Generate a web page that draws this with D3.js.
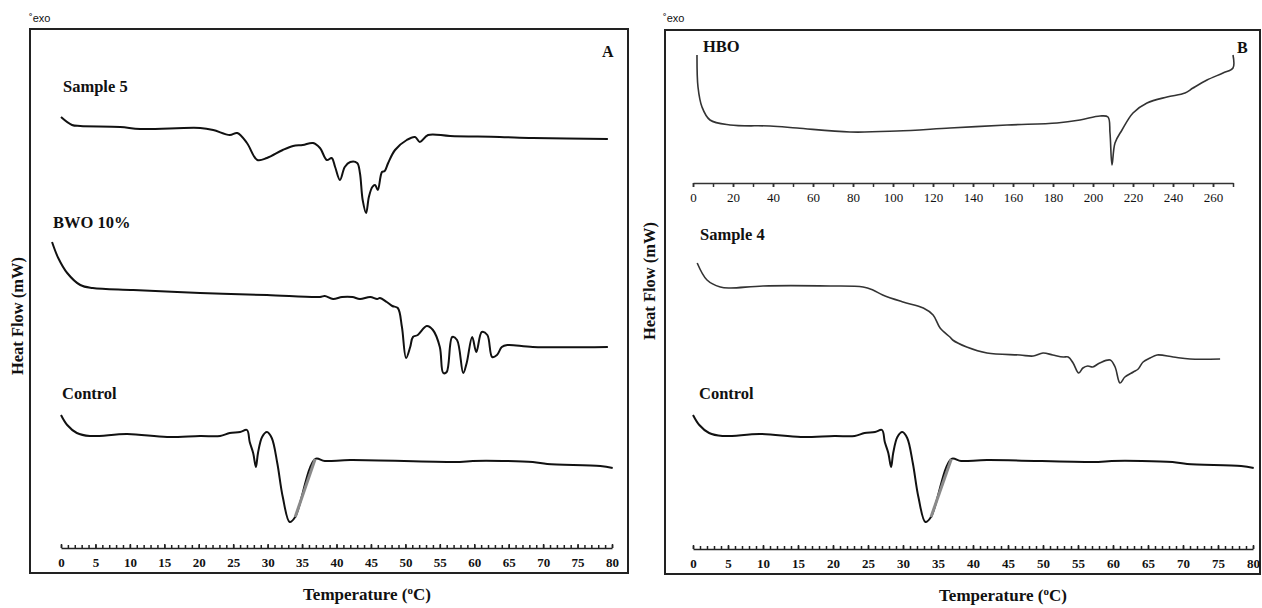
<!DOCTYPE html>
<html>
<head>
<meta charset="utf-8">
<script src="https://cdn.jsdelivr.net/npm/d3@7"></script>
<style>
  body { margin: 0; background: #fff; }
  svg { display: block; }
</style>
</head>
<body>
<svg id="chart" width="1262" height="608"></svg>
<script>
// Temperature ticks (lower axes) and HBO inset ticks
var tempMajor = [0, 5, 10, 15, 20, 25, 30, 35, 40, 45, 50, 55, 60, 65, 70, 75, 80];
var tempMinor = d3.range(0, 81, 1);
var hboMajor = [0, 20, 40, 60, 80, 100, 120, 140, 160, 180, 200, 220, 240, 260];
var hboMinor = d3.range(0, 271, 10);

// Curves: [temperature, heat flow (arbitrary, stacked)]
var sample5 = [
  [0, 86.2], [1.6, 84.6], [2.8, 84.4], [8.6, 84.2], [11.5, 83.8], [20.2, 84.0], [22.1, 83.6],
  [24.5, 82.6], [25.6, 83.0], [27.0, 81.0], [28.5, 77.6], [29.9, 78.0], [32.2, 79.6], [33.7, 80.4],
  [35.1, 80.6], [36.6, 81.0], [37.6, 80.0], [38.6, 77.6], [39.3, 78.0], [39.8, 76.2], [40.5, 73.6],
  [41.2, 76.2], [42.0, 77.2], [43.0, 77.0], [43.4, 75.0], [43.8, 69.6], [44.3, 67.0], [44.7, 70.2],
  [45.2, 72.2], [45.6, 72.6], [46.0, 71.6], [46.6, 75.2], [47.0, 75.4], [47.5, 77.0], [48.5, 79.6],
  [50.2, 81.6], [51.4, 82.2], [52.1, 81.2], [53.3, 82.6], [56.5, 82.4], [63.7, 82.2], [68.5, 82.0],
  [79.4, 81.8]
];
var bwo10 = [
  [-1.3, 61.2], [-0.4, 58.0], [0.9, 55.0], [2.8, 52.6], [4.6, 52.0], [10.5, 51.6], [20.2, 51.0],
  [29.9, 50.6], [37.6, 50.2], [38.3, 50.4], [39.5, 49.8], [40.8, 50.2], [42.3, 50.2], [43.4, 49.8],
  [44.9, 50.2], [45.9, 49.8], [46.3, 50.0], [47.3, 49.2], [48.1, 48.4], [48.9, 48.0], [49.5, 44.2],
  [50.1, 38.0], [50.7, 40.2], [51.1, 42.2], [51.8, 42.6], [53.1, 44.4], [54.0, 43.6], [55.0, 40.2],
  [55.5, 35.0], [56.0, 35.2], [56.8, 42.2], [57.5, 41.6], [58.4, 35.0], [58.9, 37.0], [59.7, 42.2],
  [60.3, 39.2], [61.1, 43.2], [61.9, 42.6], [62.6, 38.2], [63.3, 38.6], [64.0, 40.2], [64.8, 40.6],
  [68.5, 40.2], [79.4, 40.2]
];
var control = [
  [0, 26.6], [0.9, 24.6], [2.3, 23.0], [4.2, 22.4], [9.6, 22.8], [15.4, 22.2], [20.2, 22.4],
  [23.1, 22.4], [24.5, 23.0], [26.0, 23.2], [27.0, 23.6], [27.4, 21.2], [27.9, 19.0], [28.3, 16.2],
  [28.6, 19.0], [29.2, 22.2], [29.9, 23.2], [30.6, 22.0], [31.4, 17.0], [32.2, 10.2], [33.2, 5.2],
  [34.0, 6.2], [36.9, 17.8], [38.3, 17.4], [42.0, 17.6], [57.9, 17.2], [59.8, 17.4], [68.5, 17.2],
  [70.6, 16.8], [78.3, 16.4], [80.1, 16.0]
];
var hbo = [
  [2, 98.6], [2.5, 92.2], [4.5, 88.2], [8.5, 85.6], [18.5, 84.6], [38.5, 84.4], [52, 84.0],
  [78.5, 83.2], [102, 83.4], [128.5, 84.0], [157, 84.6], [182, 85.0], [193.5, 85.6], [203.5, 86.4],
  [207.5, 86.2], [208.5, 83.0], [209.5, 76.6], [211, 81.0], [214.5, 83.6], [220, 87.0], [227, 89.0],
  [237, 90.2], [246, 91.0], [250, 92.0], [257, 93.6], [265, 95.0], [270, 96.0], [270, 98.6]
];
var sample4 = [
  [0.6, 57.0], [2, 53.6], [3.9, 52.2], [5.3, 52.0], [10, 52.4], [19.6, 52.4], [24.3, 52.2],
  [25.7, 51.6], [27.1, 50.6], [30, 49.2], [32.9, 48.0], [34.3, 46.6], [35.3, 44.0], [36.7, 42.2],
  [37.1, 41.6], [39.1, 40.2], [42, 39.0], [46.7, 38.6], [48.6, 38.4], [50, 39.0], [51.4, 38.6],
  [52.9, 38.2], [53.6, 38.2], [54.3, 37.0], [55.1, 35.0], [55.7, 36.0], [56.4, 36.4], [57.1, 36.2],
  [58.1, 37.0], [59.6, 37.6], [60.3, 36.2], [61, 33.0], [61.7, 34.2], [62.9, 35.2], [63.6, 35.8],
  [64.3, 37.2], [65.3, 38.0], [66.3, 38.6], [68.6, 38.2], [71, 37.8], [75.3, 37.8]
];

var serif = '"Liberation Serif", "Times New Roman", serif';
var svg = d3.select('#chart');

var y = d3.scaleLinear().domain([0, 104]).range([548, 28]);

function drawCurve(g, xs, data, colour, width) {
  var line = d3.line()
      .x(function (d) { return xs(d[0]); })
      .y(function (d) { return y(d[1]); })
      .curve(d3.curveCatmullRom.alpha(0.5));
  g.append('path')
      .datum(data)
      .attr('d', line)
      .attr('fill', 'none')
      .attr('stroke', colour)
      .attr('stroke-width', width)
      .attr('stroke-linejoin', 'round');
  return line;
}

// grey rising edge of the control melting peak
function drawControl(g, xs) {
  drawCurve(g, xs, control, '#111', 2);
  g.append('path')
      .datum(control.filter(function (d) { return d[0] >= 34 && d[0] <= 36.9; }))
      .attr('d', d3.line().x(function (d) { return xs(d[0]); }).y(function (d) { return y(d[1]); }))
      .attr('stroke', '#8a8a8a')
      .attr('stroke-width', 3)
      .attr('fill', 'none');
}

function tempAxis(g, xs, axisY) {
  g.append('g')
      .attr('transform', 'translate(0,' + axisY + ')')
      .call(d3.axisBottom(xs).tickValues(tempMinor).tickSize(-3).tickSizeOuter(0).tickFormat(''))
      .call(function (a) {
        a.select('.domain').attr('stroke', '#222').attr('stroke-width', 1.5);
        a.selectAll('.tick line').attr('stroke', '#222').attr('stroke-width', 1.5);
      });
  g.append('g')
      .attr('transform', 'translate(0,' + axisY + ')')
      .call(d3.axisBottom(xs).tickValues(tempMajor).tickSize(-4).tickSizeOuter(0).tickPadding(10))
      .call(function (a) {
        a.select('.domain').remove();
        a.selectAll('.tick line').attr('stroke', '#222').attr('stroke-width', 1.5);
        a.selectAll('.tick text')
            .attr('font-family', serif)
            .attr('font-weight', 'bold')
            .attr('font-size', 13)
            .attr('fill', '#111');
      });
}

function label(g, txt, x, yy, size, weight) {
  return g.append('text')
      .attr('x', x)
      .attr('y', yy)
      .attr('font-family', serif)
      .attr('font-weight', weight || 'bold')
      .attr('font-size', size || 16.5)
      .attr('fill', '#111')
      .text(txt);
}

function tempTitle(g, cx, yy) {
  var t = g.append('text')
      .attr('x', cx)
      .attr('y', yy)
      .attr('text-anchor', 'middle')
      .attr('font-family', serif)
      .attr('font-weight', 'bold')
      .attr('font-size', 17)
      .attr('fill', '#111');
  t.append('tspan').text('Temperature (');
  t.append('tspan').attr('font-size', 11).attr('dy', -6).text('o');
  t.append('tspan').attr('dy', 6).text('C)');
}

function heatTitle(g, bx, cy) {
  g.append('text')
      .attr('transform', 'translate(' + bx + ',' + cy + ') rotate(-90)')
      .attr('text-anchor', 'middle')
      .attr('font-family', serif)
      .attr('font-weight', 'bold')
      .attr('font-size', 16.5)
      .attr('fill', '#111')
      .text('Heat Flow (mW)');
}

function exo(g, x) {
  g.append('text')
      .attr('x', x)
      .attr('y', 22)
      .attr('font-family', '"Liberation Sans", Arial, sans-serif')
      .attr('font-size', 11)
      .attr('fill', '#111')
      .text('˚exo');
}

// ---- Panel A ----
var gA = svg.append('g');
var xA = d3.scaleLinear().domain([0, 80]).range([61, 612]);
gA.append('rect')
    .attr('x', 30).attr('y', 29).attr('width', 598).attr('height', 544)
    .attr('fill', 'none').attr('stroke', '#222').attr('stroke-width', 2);
exo(gA, 29);
tempAxis(gA, xA, 548);
drawCurve(gA, xA, sample5, '#111', 2);
drawCurve(gA, xA, bwo10, '#111', 2);
drawControl(gA, xA);
label(gA, 'Sample 5', 63, 92);
label(gA, 'BWO 10%', 53, 228);
label(gA, 'Control', 62, 399);
label(gA, 'A', 602, 57, 16);
heatTitle(gA, 23, 316);
tempTitle(gA, 367, 600);

// ---- Panel B ----
var gB = svg.append('g');
var xB = d3.scaleLinear().domain([0, 80]).range([693, 1253]);
var xH = d3.scaleLinear().domain([0, 270]).range([693, 1233]);
gB.append('rect')
    .attr('x', 665).attr('y', 30).attr('width', 595).attr('height', 544)
    .attr('fill', 'none').attr('stroke', '#222').attr('stroke-width', 2);
exo(gB, 663);
tempAxis(gB, xB, 549);

// HBO inset axis
gB.append('g')
    .attr('transform', 'translate(0,183)')
    .call(d3.axisBottom(xH).tickValues(hboMinor).tickSize(4).tickSizeOuter(0).tickFormat(''))
    .call(function (a) {
      a.select('.domain').attr('stroke', '#333').attr('stroke-width', 1.5);
      a.selectAll('.tick line').attr('stroke', '#333').attr('stroke-width', 1.5);
    });
gB.append('g')
    .attr('transform', 'translate(0,183)')
    .call(d3.axisBottom(xH).tickValues(hboMajor).tickSize(4).tickSizeOuter(0).tickPadding(6))
    .call(function (a) {
      a.select('.domain').remove();
      a.selectAll('.tick line').attr('stroke', '#333').attr('stroke-width', 1.5);
      a.selectAll('.tick text')
          .attr('font-family', serif)
          .attr('font-size', 13)
          .attr('fill', '#111');
    });

drawCurve(gB, xH, hbo, '#333', 1.6);
drawCurve(gB, xB, sample4, '#333', 1.6);
drawControl(gB, xB);
label(gB, 'HBO', 703, 52);
label(gB, 'B', 1237, 53, 16);
label(gB, 'Sample 4', 700, 240);
label(gB, 'Control', 699, 399);
heatTitle(gB, 655, 281);
tempTitle(gB, 1003, 601);
</script>
</body>
</html>
